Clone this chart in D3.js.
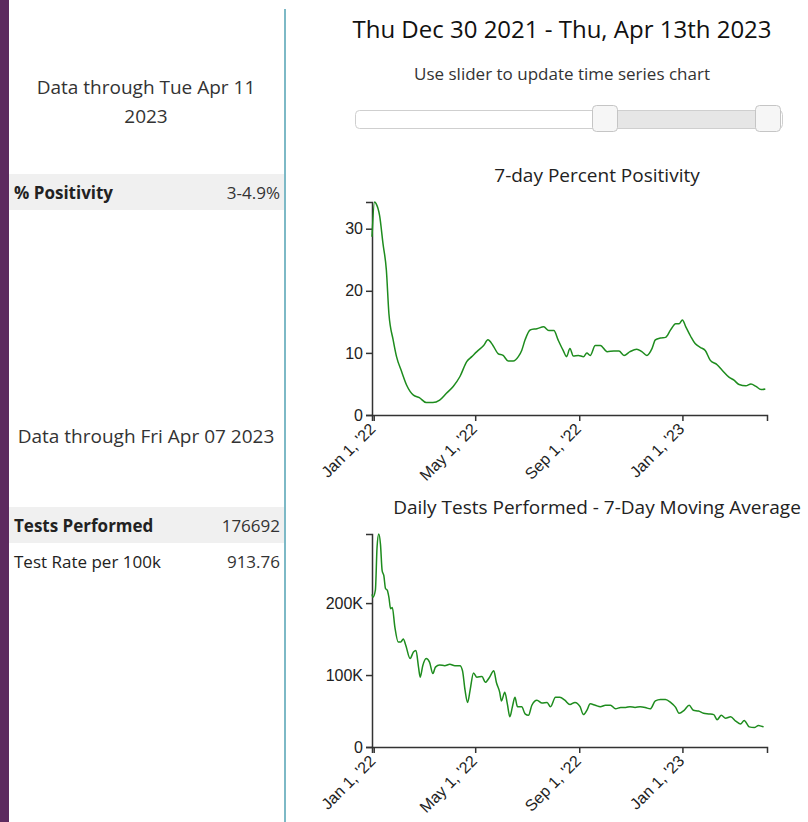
<!DOCTYPE html>
<html>
<head>
<meta charset="utf-8">
<script src="https://cdn.jsdelivr.net/npm/d3@7"></script>
<style>
  html, body { margin: 0; padding: 0; background: #fff; }
  body { width: 808px; height: 822px; overflow: hidden; font-family: "Open Sans", sans-serif; }
</style>
</head>
<body>
<svg id="chart" width="808" height="822"></svg>
<script>
// ---- Data ----
const rangeTitle = "Thu Dec 30 2021 - Thu, Apr 13th 2023";
const sliderHint = "Use slider to update time series chart";
const positivityAsOf = ["Data through Tue Apr 11", "2023"];
const testsAsOf = ["Data through Fri Apr 07 2023"];
const summaryPositivity = [["% Positivity", "3-4.9%"]];
const summaryTests = [["Tests Performed", "176692"], ["Test Rate per 100k", "913.76"]];
const chartTitles = ["7-day Percent Positivity", "Daily Tests Performed - 7-Day Moving Average"];
const xDomain = ["2021-12-30", "2023-04-11"];
const xTickDates = ["2022-01-01", "2022-05-01", "2022-09-01", "2023-01-01"];

// days since 2021-12-30 and values
const posDays = [0,3,5,9,13,17,20,25,29,35,41,49,56,64,72,80,88,96,104,112,118,124,132,137,143,149,155,161,167,173,177,181,187,195,203,209,215,220,226,230,234,238,244,250,254,258,264,270,278,286,292,298,305,313,319,325,331,335,341,347,353,359,363,367,371,377,382,388,394,400,408,414,422,428,434,442,448,454,460,465];
const posVals = [28.7,34.3,34.0,32.1,27.6,23.3,16.3,12.1,9.4,7.0,4.8,3.2,2.8,2.0,2.0,2.4,3.5,4.6,6.2,8.6,9.4,10.2,11.2,12.1,11.2,9.9,9.6,8.7,8.7,9.4,10.4,12.1,13.7,13.9,14.2,13.6,13.6,12.1,10.4,9.4,10.7,9.5,9.6,9.4,10.0,9.6,11.2,11.2,10.2,10.3,10.3,9.6,10.2,10.6,10.2,9.6,10.7,12.1,12.4,12.5,13.7,14.7,14.7,15.3,14.2,12.6,11.5,10.9,10.4,8.8,8.1,7.2,6.1,5.6,4.9,4.7,5.0,4.6,4.1,4.2];

const testDays = [0,1,4,6,8,10,12,14,16,18,20,22,24,27,31,34,37,40,45,49,52,55,57,60,64,68,72,75,80,86,92,98,104,107,110,113,116,120,124,130,134,139,144,147,151,153,157,160,163,166,169,172,177,181,185,189,195,201,207,211,217,222,228,234,240,246,250,254,258,264,270,276,282,288,294,300,305,311,317,323,329,335,341,347,353,359,363,369,375,380,386,392,398,404,408,413,418,424,430,436,440,446,452,457,460,463];
const testVals = [212,208,218,278,296,282,245,238,220,218,208,192,194,167,146,146,150,141,123,132,134,111,97,113,123,118,102,111,114,113,115,113,113,106,79,62,79,103,97,98,90,97,106,90,76,64,76,60,42,56,69,56,56,46,44,58,65,61,62,56,69,69,65,59,62,56,45,51,60,58,56,58,58,53,55,55,56,55,56,55,53,64,66,66,62,55,47,51,58,51,50,47,46,45,38,44,40,42,36,32,37,28,27,30,29,28].map(v => v * 1000);

// ---- Layout ----
const svg = d3.select("#chart");
const base = new Date(2021, 11, 30);
const toDate = d => d3.timeDay.offset(base, d);
const parse = d3.timeParse("%Y-%m-%d");

// left purple band and divider
svg.append("rect").attr("x", 0).attr("y", 0).attr("width", 9).attr("height", 822).attr("fill", "#5d2a5f");
svg.append("rect").attr("x", 284).attr("y", 9).attr("width", 2).attr("height", 813).attr("fill", "#7db9c6");

const txtColor = "#333";

function asOf(lines, y0) {
  lines.forEach((l, i) => {
    svg.append("text").attr("x", 146).attr("y", y0 + i * 29).attr("text-anchor", "middle")
      .attr("font-family", "Open Sans").attr("font-size", 19).attr("fill", txtColor).text(l);
  });
}
function rows(list, y0) {
  list.forEach((r, i) => {
    const y = y0 + i * 36;
    if (i === 0) svg.append("rect").attr("x", 9).attr("y", y).attr("width", 275).attr("height", 36).attr("fill", "#f0f0f0");
    svg.append("text").attr("x", 14).attr("y", y + 25).attr("font-family", "Open Sans")
      .attr("font-size", 17).attr("font-weight", i === 0 ? 700 : 400).attr("fill", "#222").text(r[0]);
    svg.append("text").attr("x", 280).attr("y", y + 25).attr("text-anchor", "end").attr("font-family", "Open Sans")
      .attr("font-size", 17).attr("fill", txtColor).text(r[1]);
  });
}
asOf(positivityAsOf, 94);
rows(summaryPositivity, 174);
asOf(testsAsOf, 443);
rows(summaryTests, 507);

// header
svg.append("text").attr("x", 562).attr("y", 38).attr("text-anchor", "middle").attr("font-family", "Open Sans")
  .attr("font-size", 24).attr("fill", "#111").text(rangeTitle);
svg.append("text").attr("x", 562).attr("y", 80).attr("text-anchor", "middle").attr("font-family", "Open Sans")
  .attr("font-size", 17).attr("fill", txtColor).text(sliderHint);

// slider
const sl = svg.append("g");
sl.append("rect").attr("x", 355.5).attr("y", 110.5).attr("width", 427).attr("height", 18).attr("rx", 4)
  .attr("fill", "#fff").attr("stroke", "#cfcfcf");
sl.append("rect").attr("x", 604).attr("y", 111).attr("width", 164).attr("height", 17).attr("fill", "#e6e6e6");
[[592.5, 105.5], [755.5, 105.5]].forEach(([x, y]) => {
  sl.append("rect").attr("x", x).attr("y", y).attr("width", 25).attr("height", 26).attr("rx", 4)
    .attr("fill", "#f6f6f6").attr("stroke", "#c5c5c5");
});

// charts
const x = d3.scaleTime().domain(xDomain.map(parse)).range([372, 767]);
const ticks = xTickDates.map(parse);
const fmtX = d3.timeFormat("%b %-d, '%y");

function drawChart(opts) {
  const { days, vals, yTop, yBottom, title, titleY, tickVals, fmt } = opts;
  const y = d3.scaleLinear().domain([0, d3.max(vals)]).range([yBottom, yTop]);
  svg.append("text").attr("x", 597).attr("y", titleY).attr("text-anchor", "middle").attr("font-family", "Open Sans")
    .attr("font-size", 19).attr("fill", "#222").text(title);
  const gx = svg.append("g").attr("transform", `translate(0,${yBottom})`)
    .call(d3.axisBottom(x).tickValues(ticks).tickFormat(fmtX));
  gx.selectAll("text").attr("font-size", 16).attr("font-family", "Liberation Sans, Arial, sans-serif").attr("fill", "#222")
    .style("text-anchor", "end").attr("dx", "-.55em").attr("dy", ".2em").attr("transform", "rotate(-45)");
  const gy = svg.append("g").attr("transform", `translate(372,0)`)
    .call(d3.axisLeft(y).tickValues(tickVals).tickFormat(fmt));
  gy.selectAll("text").attr("font-size", 16).attr("font-family", "Liberation Sans, Arial, sans-serif").attr("fill", "#222");
  [gx, gy].forEach(g => g.selectAll("path, line").attr("stroke", "#333").attr("stroke-width", 1.5));
  const line = d3.line().x((d, i) => x(toDate(days[i]))).y(d => y(d)).curve(d3.curveMonotoneX);
  svg.append("path").datum(vals).attr("d", line).attr("fill", "none").attr("stroke", "#1e8c1e").attr("stroke-width", 1.5);
}

drawChart({ days: posDays, vals: posVals, yTop: 202, yBottom: 415, title: chartTitles[0], titleY: 182,
  tickVals: [0, 10, 20, 30], fmt: d3.format("d") });
drawChart({ days: testDays, vals: testVals, yTop: 534, yBottom: 747, title: chartTitles[1], titleY: 514,
  tickVals: [0, 100000, 200000], fmt: d => d === 0 ? "0" : (d / 1000) + "K" });
</script>
</body>
</html>
